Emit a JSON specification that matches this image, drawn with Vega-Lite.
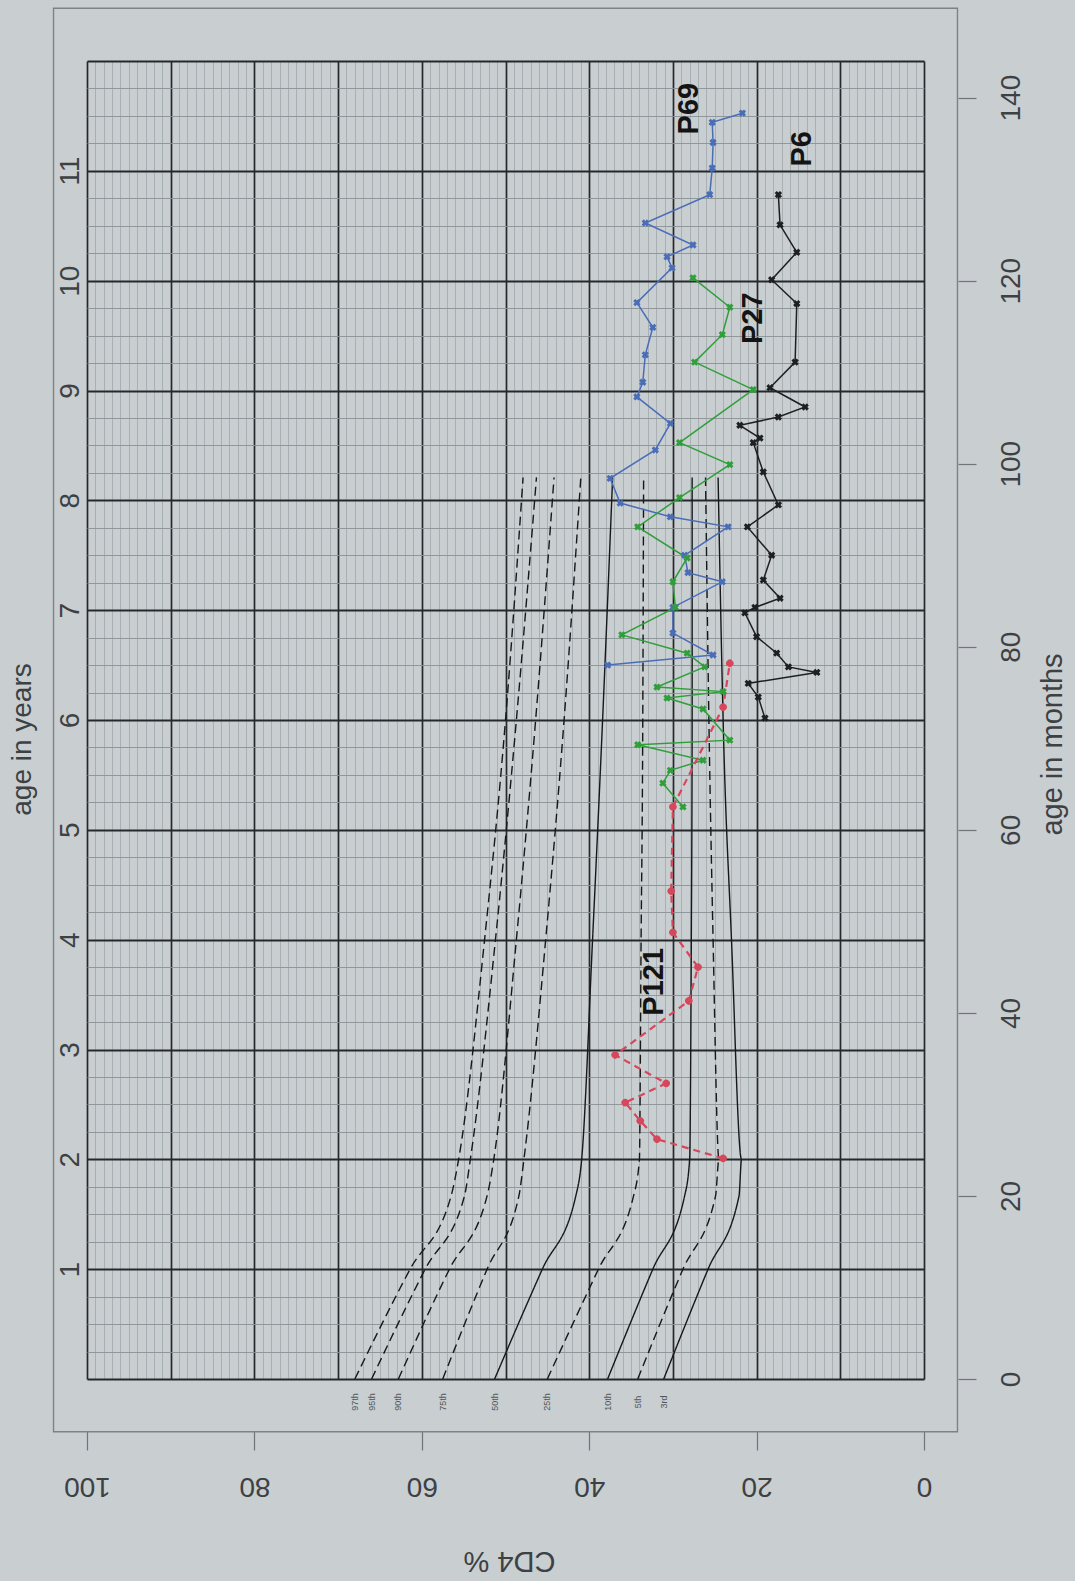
{
  "$schema": "https://vega.github.io/schema/vega-lite/v6.json",
  "width": 837,
  "height": 1318,
  "autosize": {"type": "none"},
  "padding": {"left": 87, "top": 61, "right": 151, "bottom": 202},
  "background": "#c9ced1",
  "config": {"view": {"stroke": null}, "font": "Liberation Sans"},
  "datasets": {
    "centiles": [
      {"centile": "97th", "month": 0, "cd4": 68.0}, {"centile": "97th", "month": 12, "cd4": 61.4}, {"centile": "97th", "month": 20, "cd4": 56.5}, {"centile": "97th", "month": 24, "cd4": 55.6}, {"centile": "97th", "month": 48, "cd4": 52.5}, {"centile": "97th", "month": 72, "cd4": 50.0}, {"centile": "97th", "month": 98.5, "cd4": 47.9},
      {"centile": "95th", "month": 0, "cd4": 66.0}, {"centile": "95th", "month": 12, "cd4": 59.6}, {"centile": "95th", "month": 20, "cd4": 54.9}, {"centile": "95th", "month": 24, "cd4": 54.2}, {"centile": "95th", "month": 48, "cd4": 51.2}, {"centile": "95th", "month": 72, "cd4": 48.7}, {"centile": "95th", "month": 98.5, "cd4": 46.3},
      {"centile": "90th", "month": 0, "cd4": 62.8}, {"centile": "90th", "month": 12, "cd4": 56.7}, {"centile": "90th", "month": 20, "cd4": 52.2}, {"centile": "90th", "month": 24, "cd4": 51.4}, {"centile": "90th", "month": 48, "cd4": 48.7}, {"centile": "90th", "month": 72, "cd4": 46.4}, {"centile": "90th", "month": 98.5, "cd4": 44.2},
      {"centile": "75th", "month": 0, "cd4": 57.5}, {"centile": "75th", "month": 12, "cd4": 52.2}, {"centile": "75th", "month": 20, "cd4": 48.4}, {"centile": "75th", "month": 24, "cd4": 47.8}, {"centile": "75th", "month": 48, "cd4": 45.2}, {"centile": "75th", "month": 72, "cd4": 43.0}, {"centile": "75th", "month": 98.5, "cd4": 41.0},
      {"centile": "50th", "month": 0, "cd4": 51.3}, {"centile": "50th", "month": 12, "cd4": 45.6}, {"centile": "50th", "month": 20, "cd4": 41.6}, {"centile": "50th", "month": 24, "cd4": 40.9}, {"centile": "50th", "month": 48, "cd4": 39.6}, {"centile": "50th", "month": 72, "cd4": 38.4}, {"centile": "50th", "month": 98.5, "cd4": 37.2},
      {"centile": "25th", "month": 0, "cd4": 45.0}, {"centile": "25th", "month": 12, "cd4": 38.9}, {"centile": "25th", "month": 20, "cd4": 34.7}, {"centile": "25th", "month": 24, "cd4": 34.0}, {"centile": "25th", "month": 48, "cd4": 33.8}, {"centile": "25th", "month": 72, "cd4": 33.6}, {"centile": "25th", "month": 98.5, "cd4": 33.5},
      {"centile": "10th", "month": 0, "cd4": 37.8}, {"centile": "10th", "month": 12, "cd4": 32.4}, {"centile": "10th", "month": 20, "cd4": 28.6}, {"centile": "10th", "month": 24, "cd4": 28.0}, {"centile": "10th", "month": 48, "cd4": 27.8}, {"centile": "10th", "month": 72, "cd4": 27.7}, {"centile": "10th", "month": 98.5, "cd4": 27.7},
      {"centile": "5th", "month": 0, "cd4": 34.2}, {"centile": "5th", "month": 12, "cd4": 28.8}, {"centile": "5th", "month": 20, "cd4": 24.9}, {"centile": "5th", "month": 24, "cd4": 24.5}, {"centile": "5th", "month": 48, "cd4": 25.2}, {"centile": "5th", "month": 72, "cd4": 25.7}, {"centile": "5th", "month": 98.5, "cd4": 26.1},
      {"centile": "3rd", "month": 0, "cd4": 31.1}, {"centile": "3rd", "month": 12, "cd4": 25.8}, {"centile": "3rd", "month": 20, "cd4": 22.1}, {"centile": "3rd", "month": 24, "cd4": 21.8}, {"centile": "3rd", "month": 48, "cd4": 23.0}, {"centile": "3rd", "month": 72, "cd4": 24.0}, {"centile": "3rd", "month": 98.5, "cd4": 24.6}
    ],
    "patients": [
      {"patient": "P121", "month": 24.1, "cd4": 24.0}, {"patient": "P121", "month": 26.2, "cd4": 31.9}, {"patient": "P121", "month": 28.2, "cd4": 33.9}, {"patient": "P121", "month": 30.2, "cd4": 35.7}, {"patient": "P121", "month": 32.3, "cd4": 30.8}, {"patient": "P121", "month": 35.4, "cd4": 36.9}, {"patient": "P121", "month": 41.3, "cd4": 28.1}, {"patient": "P121", "month": 45.0, "cd4": 27.0}, {"patient": "P121", "month": 48.8, "cd4": 30.0}, {"patient": "P121", "month": 53.3, "cd4": 30.2}, {"patient": "P121", "month": 62.5, "cd4": 30.0}, {"patient": "P121", "month": 73.4, "cd4": 24.0}, {"patient": "P121", "month": 78.2, "cd4": 23.2},
      {"patient": "P69", "month": 78.0, "cd4": 37.8}, {"patient": "P69", "month": 79.1, "cd4": 25.2}, {"patient": "P69", "month": 81.5, "cd4": 30.0}, {"patient": "P69", "month": 84.3, "cd4": 30.0}, {"patient": "P69", "month": 87.1, "cd4": 24.1}, {"patient": "P69", "month": 88.1, "cd4": 28.2}, {"patient": "P69", "month": 90.0, "cd4": 28.6}, {"patient": "P69", "month": 93.1, "cd4": 23.4}, {"patient": "P69", "month": 94.2, "cd4": 30.3}, {"patient": "P69", "month": 95.7, "cd4": 36.3}, {"patient": "P69", "month": 98.4, "cd4": 37.5}, {"patient": "P69", "month": 101.5, "cd4": 32.1}, {"patient": "P69", "month": 104.4, "cd4": 30.3}, {"patient": "P69", "month": 107.3, "cd4": 34.3}, {"patient": "P69", "month": 108.9, "cd4": 33.6}, {"patient": "P69", "month": 111.9, "cd4": 33.3}, {"patient": "P69", "month": 114.9, "cd4": 32.4}, {"patient": "P69", "month": 117.6, "cd4": 34.3}, {"patient": "P69", "month": 121.4, "cd4": 30.1}, {"patient": "P69", "month": 122.6, "cd4": 30.7}, {"patient": "P69", "month": 123.9, "cd4": 27.6}, {"patient": "P69", "month": 126.3, "cd4": 33.3}, {"patient": "P69", "month": 129.4, "cd4": 25.6}, {"patient": "P69", "month": 132.3, "cd4": 25.3}, {"patient": "P69", "month": 135.1, "cd4": 25.2}, {"patient": "P69", "month": 137.3, "cd4": 25.3}, {"patient": "P69", "month": 138.3, "cd4": 21.7},
      {"patient": "P27", "month": 62.5, "cd4": 28.8}, {"patient": "P27", "month": 65.1, "cd4": 31.2}, {"patient": "P27", "month": 66.5, "cd4": 30.3}, {"patient": "P27", "month": 67.6, "cd4": 26.4}, {"patient": "P27", "month": 69.3, "cd4": 34.2}, {"patient": "P27", "month": 69.8, "cd4": 23.2}, {"patient": "P27", "month": 73.2, "cd4": 26.4}, {"patient": "P27", "month": 74.4, "cd4": 30.7}, {"patient": "P27", "month": 75.1, "cd4": 24.0}, {"patient": "P27", "month": 75.6, "cd4": 31.9}, {"patient": "P27", "month": 77.8, "cd4": 26.2}, {"patient": "P27", "month": 79.3, "cd4": 28.3}, {"patient": "P27", "month": 81.3, "cd4": 36.1}, {"patient": "P27", "month": 84.3, "cd4": 29.7}, {"patient": "P27", "month": 87.1, "cd4": 30.0}, {"patient": "P27", "month": 89.7, "cd4": 28.3}, {"patient": "P27", "month": 93.1, "cd4": 34.2}, {"patient": "P27", "month": 96.3, "cd4": 29.2}, {"patient": "P27", "month": 99.9, "cd4": 23.2}, {"patient": "P27", "month": 102.3, "cd4": 29.2}, {"patient": "P27", "month": 108.1, "cd4": 20.4}, {"patient": "P27", "month": 111.1, "cd4": 27.4}, {"patient": "P27", "month": 114.1, "cd4": 24.1}, {"patient": "P27", "month": 117.1, "cd4": 23.2}, {"patient": "P27", "month": 120.3, "cd4": 27.6},
      {"patient": "P6", "month": 72.2, "cd4": 19.0}, {"patient": "P6", "month": 74.5, "cd4": 19.8}, {"patient": "P6", "month": 76.0, "cd4": 21.0}, {"patient": "P6", "month": 77.2, "cd4": 12.8}, {"patient": "P6", "month": 77.8, "cd4": 16.2}, {"patient": "P6", "month": 79.3, "cd4": 17.6}, {"patient": "P6", "month": 81.1, "cd4": 20.0}, {"patient": "P6", "month": 83.7, "cd4": 21.4}, {"patient": "P6", "month": 84.3, "cd4": 20.2}, {"patient": "P6", "month": 85.3, "cd4": 17.2}, {"patient": "P6", "month": 87.3, "cd4": 19.2}, {"patient": "P6", "month": 90.0, "cd4": 18.2}, {"patient": "P6", "month": 93.1, "cd4": 21.1}, {"patient": "P6", "month": 95.5, "cd4": 17.4}, {"patient": "P6", "month": 99.1, "cd4": 19.2}, {"patient": "P6", "month": 102.3, "cd4": 20.4}, {"patient": "P6", "month": 102.8, "cd4": 19.6}, {"patient": "P6", "month": 104.2, "cd4": 22.0}, {"patient": "P6", "month": 105.1, "cd4": 17.4}, {"patient": "P6", "month": 106.2, "cd4": 14.2}, {"patient": "P6", "month": 108.3, "cd4": 18.4}, {"patient": "P6", "month": 111.1, "cd4": 15.4}, {"patient": "P6", "month": 117.5, "cd4": 15.2}, {"patient": "P6", "month": 120.1, "cd4": 18.2}, {"patient": "P6", "month": 123.1, "cd4": 15.2}, {"patient": "P6", "month": 126.1, "cd4": 17.2}, {"patient": "P6", "month": 129.4, "cd4": 17.4}
    ],
    "names": [
      {"patient": "P69", "month": 138.8, "cd4": 28.1},
      {"patient": "P6", "month": 134.4, "cd4": 14.6},
      {"patient": "P27", "month": 115.9, "cd4": 20.4},
      {"patient": "P121", "month": 43.4, "cd4": 32.3}
    ]
  },
  "resolve": {"axis": {"x": "independent", "y": "independent"}, "scale": {"strokeDash": "independent"}},
  "layer": [
    {
      "data": {"values": [{}]},
      "mark": {"type": "rect", "filled": false, "stroke": "#7c8386", "strokeWidth": 1.4},
      "encoding": {
        "x": {"datum": 104, "type": "quantitative", "scale": {"domain": [0, 100], "reverse": true, "nice": false, "zero": false}, "axis": null},
        "x2": {"datum": -4},
        "y": {"datum": -5.76, "type": "quantitative", "scale": {"domain": [0, 144], "nice": false, "zero": false}, "axis": null},
        "y2": {"datum": 149.76}
      }
    },
    {
      "data": {"name": "centiles"},
      "mark": {"type": "line", "interpolate": "monotone", "strokeWidth": 1.4, "color": "#161819"},
      "encoding": {
        "x": {
          "field": "cd4", "type": "quantitative",
          "scale": {"domain": [0, 100], "reverse": true, "nice": false, "zero": false},
          "axis": {
            "orient": "top", "title": null, "labels": false, "ticks": false, "domain": false, "grid": true,
            "values": [0,1,2,3,4,5,6,7,8,9,10,11,12,13,14,15,16,17,18,19,20,21,22,23,24,25,26,27,28,29,30,31,32,33,34,35,36,37,38,39,40,41,42,43,44,45,46,47,48,49,50,51,52,53,54,55,56,57,58,59,60,61,62,63,64,65,66,67,68,69,70,71,72,73,74,75,76,77,78,79,80,81,82,83,84,85,86,87,88,89,90,91,92,93,94,95,96,97,98,99,100],
            "gridColor": {"condition": {"test": "datum.value % 10 === 0", "value": "#25292c"}, "value": "#979fa2"},
            "gridWidth": {"condition": {"test": "datum.value % 10 === 0", "value": 1.7}, "value": 0.65},
            "gridOpacity": 1
          }
        },
        "y": {
          "field": "month", "type": "quantitative",
          "scale": {"domain": [0, 144], "nice": false, "zero": false},
          "axis": {
            "orient": "left", "ticks": false, "domain": false, "grid": true,
            "values": [0,3,6,9,12,15,18,21,24,27,30,33,36,39,42,45,48,51,54,57,60,63,66,69,72,75,78,81,84,87,90,93,96,99,102,105,108,111,114,117,120,123,126,129,132,135,138,141,144],
            "gridColor": {"condition": {"test": "datum.value % 12 === 0", "value": "#25292c"}, "value": "#8a9295"},
            "gridWidth": {"condition": {"test": "datum.value % 12 === 0", "value": 1.8}, "value": 0.9},
            "gridOpacity": 1,
            "labelExpr": "datum.value % 12 === 0 && datum.value > 0 && datum.value < 144 ? format(datum.value / 12, 'd') : ''",
            "labelOverlap": false, "labelFlush": false, "labelBound": false,
            "labelAngle": 270, "labelAlign": "center", "labelBaseline": "middle", "labelPadding": 17,
            "labelFontSize": 28, "labelColor": "#3d4144",
            "title": "age in years", "titleAngle": 270, "titleX": -65, "titleY": 678,
            "titleAlign": "center", "titleBaseline": "middle", "titleFontSize": 28, "titleFontWeight": "normal", "titleColor": "#3d4144"
          }
        },
        "detail": {"field": "centile"},
        "order": {"field": "month"},
        "strokeDash": {
          "field": "centile", "type": "nominal", "legend": null,
          "scale": {
            "domain": ["97th", "95th", "90th", "75th", "50th", "25th", "10th", "5th", "3rd"],
            "range": [[9, 5], [9, 5], [9, 5], [9, 5], [1, 0], [9, 5], [1, 0], [9, 5], [1, 0]]
          }
        }
      }
    },
    {
      "data": {"name": "centiles"},
      "transform": [{"filter": "datum.month === 0"}],
      "mark": {"type": "text", "angle": 270, "fontSize": 9, "color": "#50565a", "align": "center", "baseline": "middle", "yOffset": 23},
      "encoding": {
        "x": {"field": "cd4", "type": "quantitative", "scale": {"domain": [0, 100], "reverse": true, "nice": false, "zero": false}, "axis": null},
        "y": {"field": "month", "type": "quantitative", "scale": {"domain": [0, 144], "nice": false, "zero": false}, "axis": null},
        "text": {"field": "centile"}
      }
    },
    {
      "data": {"name": "patients"},
      "transform": [{"filter": "datum.patient !== 'P121'"}],
      "mark": {"type": "line", "strokeWidth": 1.5},
      "encoding": {
        "x": {
          "field": "cd4", "type": "quantitative",
          "scale": {"domain": [0, 100], "reverse": true, "nice": false, "zero": false},
          "axis": {
            "orient": "bottom", "values": [0, 20, 40, 60, 80, 100], "grid": false, "domain": false,
            "offset": 52, "tickSize": 19, "tickColor": "#6f7578", "tickWidth": 1.2,
            "labelAngle": 180, "labelAlign": "center", "labelBaseline": "middle", "labelPadding": 35,
            "labelFontSize": 28, "labelColor": "#3d4144", "labelFlush": false, "labelBound": false, "labelOverlap": false,
            "title": "CD4 %", "titleAngle": 180, "titleX": 422, "titleY": 129,
            "titleAlign": "center", "titleBaseline": "middle", "titleFontSize": 29, "titleFontWeight": "normal", "titleColor": "#3d4144"
          }
        },
        "y": {
          "field": "month", "type": "quantitative",
          "scale": {"domain": [0, 144], "nice": false, "zero": false},
          "axis": {
            "orient": "right", "values": [0, 20, 40, 60, 80, 100, 120, 140], "grid": false, "domain": false,
            "offset": 34, "tickSize": 18, "tickColor": "#6f7578", "tickWidth": 1.2,
            "labelAngle": 270, "labelAlign": "center", "labelBaseline": "middle", "labelPadding": 35,
            "labelFontSize": 28, "labelColor": "#3d4144", "labelFlush": false, "labelBound": false, "labelOverlap": false,
            "title": "age in months", "titleAngle": 270, "titleX": 94, "titleY": 683,
            "titleAlign": "center", "titleBaseline": "middle", "titleFontSize": 29, "titleFontWeight": "normal", "titleColor": "#3d4144"
          }
        },
        "order": {"field": "month"},
        "color": {
          "field": "patient", "type": "nominal", "legend": null,
          "scale": {"domain": ["P121", "P69", "P27", "P6"], "range": ["#d6475c", "#4a6db8", "#2f9f3a", "#1e1f20"]}
        },
        "strokeWidth": {
          "field": "patient", "type": "nominal", "legend": null,
          "scale": {"domain": ["P121", "P69", "P27", "P6"], "range": [2, 1.4, 1.9, 1.2]}
        }
      }
    },
    {
      "data": {"name": "patients"},
      "transform": [{"filter": "datum.patient === 'P121'"}],
      "mark": {"type": "line", "strokeWidth": 2.2, "strokeDash": [7, 5]},
      "encoding": {
        "x": {"field": "cd4", "type": "quantitative", "scale": {"domain": [0, 100], "reverse": true, "nice": false, "zero": false}, "axis": null},
        "y": {"field": "month", "type": "quantitative", "scale": {"domain": [0, 144], "nice": false, "zero": false}, "axis": null},
        "order": {"field": "month"},
        "color": {
          "field": "patient", "type": "nominal", "legend": null,
          "scale": {"domain": ["P121", "P69", "P27", "P6"], "range": ["#d6475c", "#4a6db8", "#2f9f3a", "#1e1f20"]}
        }
      }
    },
    {
      "data": {"name": "patients"},
      "mark": {"type": "point", "filled": true, "angle": 45, "size": 55, "opacity": 1},
      "encoding": {
        "x": {"field": "cd4", "type": "quantitative", "scale": {"domain": [0, 100], "reverse": true, "nice": false, "zero": false}, "axis": null},
        "y": {"field": "month", "type": "quantitative", "scale": {"domain": [0, 144], "nice": false, "zero": false}, "axis": null},
        "color": {
          "field": "patient", "type": "nominal", "legend": null,
          "scale": {"domain": ["P121", "P69", "P27", "P6"], "range": ["#d6475c", "#4a6db8", "#2f9f3a", "#1e1f20"]}
        },
        "shape": {
          "field": "patient", "type": "nominal", "legend": null,
          "scale": {"domain": ["P121", "P69", "P27", "P6"], "range": ["circle", "cross", "cross", "cross"]}
        }
      }
    },
    {
      "data": {"name": "names"},
      "mark": {"type": "text", "angle": 270, "fontSize": 29, "fontWeight": "bold", "color": "#141414", "align": "center", "baseline": "middle"},
      "encoding": {
        "x": {"field": "cd4", "type": "quantitative", "scale": {"domain": [0, 100], "reverse": true, "nice": false, "zero": false}, "axis": null},
        "y": {"field": "month", "type": "quantitative", "scale": {"domain": [0, 144], "nice": false, "zero": false}, "axis": null},
        "text": {"field": "patient"}
      }
    }
  ]
}
